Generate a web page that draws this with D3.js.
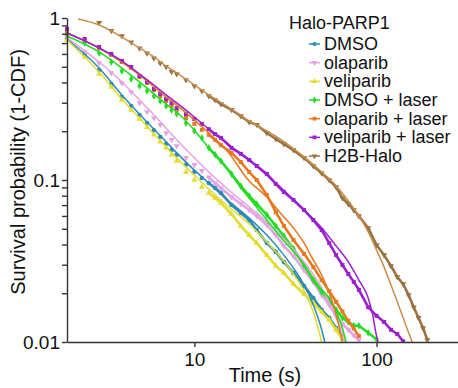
<!DOCTYPE html>
<html><head><meta charset="utf-8">
<script src="https://cdn.jsdelivr.net/npm/d3@7"></script>
<style>body{margin:0;background:#fff;} svg{display:block;font-family:"Liberation Sans",Arial,sans-serif;}</style>
</head><body><svg id="c" width="458" height="388"></svg>
<script>
// ---------------- data ----------------
const dataTimes = [2,2.5,3,3.5,4,4.5,5,5.5,6,6.5,7,7.5,8,9,10,11,12,13,14,16,18,20,22,25,28,31,35,40,45,50,55,60,65,70,75,80,90,100,110,120,130,140,150,160,170,180,190];
const seriesNames = ["DMSO","olaparib","veliparib","DMSO + laser","olaparib + laser","veliparib + laser","H2B-Halo"];
const legendTitle = "Halo-PARP1";

const dmsoP = [0.753,0.591,0.478,0.392,0.325,0.286,0.252,0.225,0.203,0.184,0.167,0.153,0.143,0.124,0.112,0.103,0.0958,0.0893,0.0832,0.0701,0.0626,0.0566,0.0491,0.0408,0.036,0.0312,0.0267,0.0222,0.0187,0.0158,0.0141,0.0122,0.0107];
const olaP = [0.763,0.617,0.527,0.457,0.397,0.349,0.299,0.263,0.241,0.219,0.195,0.177,0.162,0.137,0.124,0.114,0.104,0.0958,0.0893,0.0785,0.0711,0.0653,0.060,0.0528,0.0457,0.0392,0.034,0.0278,0.0235,0.0195,0.0169,0.0145,0.0129,0.0119,0.0110,0.0103];
const veliP = [0.732,0.574,0.451,0.375,0.312,0.270,0.238,0.212,0.190,0.172,0.158,0.143,0.131,0.112,0.100,0.0905,0.0832,0.0774,0.0721,0.0617,0.052,0.0457,0.0408,0.0344,0.0295,0.0267,0.0228,0.0198,0.0174,0.0153,0.0137,0.0119,0.0104];
const dmsoLaserP = [0.796,0.701,0.608,0.535,0.471,0.420,0.380,0.354,0.330,0.307,0.286,0.270,0.255,0.225,0.201,0.182,0.158,0.143,0.131,0.109,0.0918,0.0799,0.0711,0.0609,0.052,0.0451,0.0376,0.0299,0.0241,0.0204,0.0182,0.0158,0.0141,0.0133,0.0126,0.0126,0.0114,0.0104];
const olaLaserP = [0.831,0.732,0.653,0.591,0.535,0.491,0.432,0.397,0.359,0.330,0.307,0.286,0.267,0.241,0.222,0.204,0.190,0.177,0.164,0.147,0.129,0.112,0.100,0.0809,0.0634,0.0521,0.0426,0.035,0.029,0.0241,0.0206,0.0177,0.0154,0.0135,0.0121,0.0109];
const veliLaserP = [0.855,0.742,0.662,0.600,0.543,0.499,0.439,0.403,0.365,0.340,0.316,0.299,0.278,0.255,0.238,0.222,0.206,0.192,0.182,0.158,0.145,0.133,0.122,0.109,0.0945,0.0843,0.0753,0.0653,0.0566,0.0491,0.0408,0.0344,0.0299,0.0263,0.0235,0.021,0.0164,0.0145,0.0133,0.0119,0.0112,0.0101];
const h2bP = [null,null,0.935,0.835,0.774,0.708,0.650,0.605,0.564,0.525,0.500,0.466,0.451,0.414,0.380,0.354,0.330,0.312,0.294,0.271,0.248,0.228,0.219,0.195,0.179,0.167,0.153,0.137,0.122,0.110,0.100,0.0905,0.0774,0.0711,0.0653,0.060,0.0506,0.0397,0.0344,0.0295,0.0252,0.0228,0.0195,0.0164,0.0141,0.0122,0.0103];

// fitted curves
const dmsoFitT = [2,3,4,5,6,7,8,10,12,15,20,25,30,35,40,45,50,52];
const dmsoFitP = [0.742,0.491,0.335,0.255,0.206,0.172,0.147,0.115,0.0958,0.0763,0.0582,0.0457,0.036,0.0286,0.0225,0.0169,0.0119,0.01];
const olaFitT = [2,3,4,5,6,7,8,10,12,15,20,25,30,40,50,60,65,67];
const olaFitP = [0.753,0.535,0.403,0.312,0.252,0.209,0.177,0.137,0.112,0.0893,0.0681,0.0551,0.0451,0.0312,0.0216,0.0141,0.0114,0.01];
const veliFitT = [2,3,4,5,6,7,8,10,12,15,20,25,30,35,40,45,50];
const veliFitP = [0.732,0.464,0.316,0.241,0.192,0.160,0.137,0.107,0.088,0.0701,0.0535,0.0414,0.033,0.0263,0.0207,0.0153,0.01];
const dmsoLaserFitT = [2,3,4,5,6,7,8,10,12,15,18,20,25,30,37,45,50,56,60,65,68];
const dmsoLaserFitP = [0.774,0.617,0.491,0.403,0.340,0.294,0.263,0.203,0.158,0.119,0.0893,0.0774,0.0566,0.0439,0.0335,0.0248,0.021,0.0182,0.0153,0.0122,0.01];
const olaLaserFitT = [2,3,4,5,6,7,8,10,12,15,20,25,30,35,40,44,50,56,61,65];
const olaLaserFitP = [0.808,0.653,0.535,0.445,0.375,0.325,0.290,0.235,0.195,0.153,0.0986,0.0786,0.0617,0.0506,0.0409,0.0335,0.0259,0.019,0.0137,0.01];
const veliLaserFitT = [2,3,4,5,6,7,8,10,12,15,20,25,30,40,50,60,70,80,90,95,100,102];
const veliLaserFitP = [0.808,0.653,0.543,0.451,0.386,0.335,0.299,0.245,0.206,0.169,0.133,0.107,0.0893,0.0653,0.0506,0.0392,0.0312,0.0241,0.0187,0.0149,0.0109,0.01];
const h2bFitT = [2.3,3,4,5,6,7,8,10,12,15,20,25,30,40,50,60,70,80,90,100,110,120,130,140,150,157];
const h2bFitP = [0.986,0.905,0.763,0.653,0.575,0.505,0.458,0.386,0.335,0.287,0.231,0.201,0.177,0.139,0.112,0.0921,0.0742,0.060,0.0478,0.037,0.029,0.0225,0.0177,0.0141,0.0114,0.01];

const yMajor = [1, 0.1, 0.01];
const yMinor = [0.9,0.8,0.7,0.6,0.5,0.4,0.3,0.2,0.09,0.08,0.07,0.06,0.05,0.04,0.03,0.02];
const xMajor = [10, 100];

// ---------------- styles ----------------
const colors = ["#2a8bb8","#e6a3e3","#e2dd2c","#22dd22","#e8781e","#9a1fd0","#9a7242"];
const fitColors = ["#2a8bb8","#e6a3e3","#e2dd2c","#22dd22","#e8781e","#9a1fd0","#c58f4c"];
const symbols = [d3.symbolCircle, d3.symbolTriangle, d3.symbolTriangle, d3.symbolDiamond, d3.symbolSquare, d3.symbolSquare, d3.symbolTriangle];
const symRot = [0,180,0,0,0,0,180];

const dataP = [dmsoP, olaP, veliP, dmsoLaserP, olaLaserP, veliLaserP, h2bP];
const fits = [[dmsoFitT,dmsoFitP],[olaFitT,olaFitP],[veliFitT,veliFitP],[dmsoLaserFitT,dmsoLaserFitP],[olaLaserFitT,olaLaserFitP],[veliLaserFitT,veliLaserFitP],[h2bFitT,h2bFitP]];

const svg = d3.select("#c");
const x = d3.scaleLog().domain([2, 280]).range([67, 458]);
const y = d3.scaleLog().domain([0.01, 1]).range([342, 18]);

svg.append("defs").append("clipPath").attr("id","clip")
  .append("rect").attr("x",60).attr("y",0).attr("width",398).attr("height",342);

const plot = svg.append("g").attr("clip-path","url(#clip)");
const line = d3.line().x(d=>x(d[0])).y(d=>y(d[1])).curve(d3.curveMonotoneX);
const band = d3.line().x(d=>x(d[0])).y(d=>y(d[1]));

dataP.forEach((arr, i) => {
  const pts = arr.map((p, k) => [dataTimes[k], p]).filter(d => d[1] != null);
  const dense = pts.filter(d => d[0] >= 12);
  plot.append("path").attr("d", band(dense)).attr("fill","none")
    .attr("stroke", colors[i]).attr("stroke-width", 2.6).attr("stroke-linejoin","round");
  const sym = d3.symbol().type(symbols[i]).size(16);
  plot.append("g").selectAll("path").data(pts).join("path")
    .attr("d", sym)
    .attr("transform", d => `translate(${x(d[0])},${y(d[1])}) rotate(${symRot[i]})`)
    .attr("fill", colors[i]);
});
fits.forEach((f, i) => {
  const pts = f[0].map((t, k) => [t, f[1][k]]);
  plot.append("path").attr("d", line(pts)).attr("fill","none")
    .attr("stroke", fitColors[i]).attr("stroke-width", 1.5);
});

// axes
const yAxis = d3.axisLeft(y).tickValues(yMajor.concat(yMinor)).tickSize(5).tickSizeOuter(0).tickPadding(2)
  .tickFormat(d => yMajor.includes(d) ? String(d) : "");
const gy = svg.append("g").attr("transform","translate(67,0)").call(yAxis);
const xAxis = d3.axisBottom(x).tickValues(xMajor).tickSize(5).tickSizeOuter(0).tickPadding(6).tickFormat(d => String(d));
const gx = svg.append("g").attr("transform","translate(0,342)").call(xAxis);
[gx, gy].forEach(g => {
  g.selectAll(".domain,line").attr("stroke","#333").attr("stroke-width",1.4);
  g.selectAll("text").attr("fill","#111").style("font-size","19px").style("font-family","'Liberation Sans',Arial,sans-serif");
});

svg.append("text").attr("x", 265).attr("y", 382).attr("text-anchor","middle")
  .style("font-size","20px").attr("fill","#111").text("Time (s)");
svg.append("text").attr("transform","translate(25,172) rotate(-90)").attr("text-anchor","middle")
  .style("font-size","20px").attr("fill","#111").text("Survival probability (1-CDF)");

// legend
const lg = svg.append("g");
lg.append("text").attr("x", 289).attr("y", 29).style("font-size","18px").attr("fill","#111").text(legendTitle);
seriesNames.forEach((name, i) => {
  const by = 50 + i * 18.67;
  lg.append("line").attr("x1",309).attr("x2",320).attr("y1",by-6).attr("y2",by-6)
    .attr("stroke", colors[i]).attr("stroke-width",1.5);
  lg.append("path").attr("d", d3.symbol().type(symbols[i]).size(14))
    .attr("transform",`translate(314.5,${by-6}) rotate(${symRot[i]})`).attr("fill", colors[i]);
  lg.append("text").attr("x", 324).attr("y", by).style("font-size","18px").attr("fill","#111").text(name);
});
</script></body></html>
